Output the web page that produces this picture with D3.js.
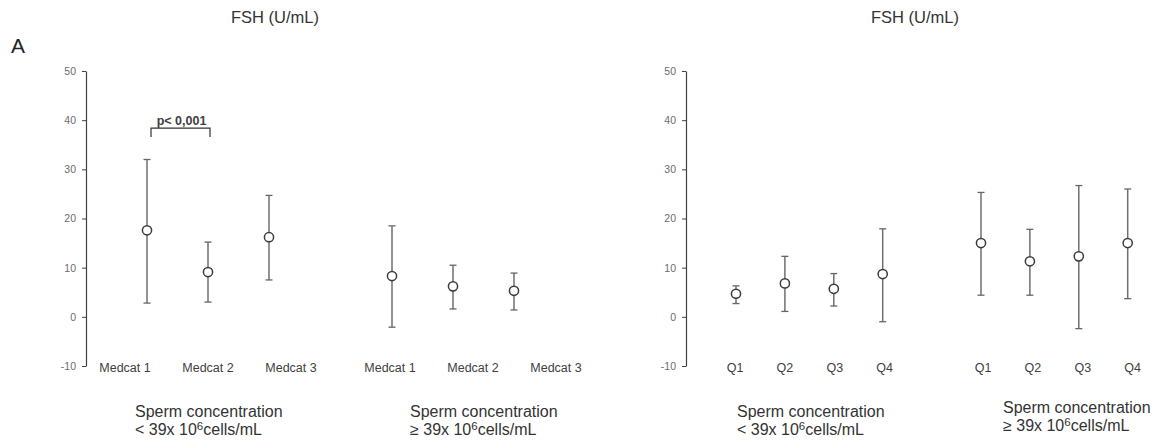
<!DOCTYPE html>
<html>
<head>
<meta charset="utf-8">
<script src="https://cdn.jsdelivr.net/npm/d3@7"></script>
<style>
  body { margin: 0; background: #fff; }
  text { font-family: "Liberation Sans", Arial, sans-serif; }
</style>
</head>
<body>
<script>
// ---- data ----
const yTicks = [-10, 0, 10, 20, 30, 40, 50];

const medcats = ["Medcat 1", "Medcat 2", "Medcat 3"];
const medMeanLow  = [17.6, 9.1, 16.2];
const medLowerLow = [2.8, 3.0, 7.5];
const medUpperLow = [32.0, 15.2, 24.7];
const medMeanHigh  = [8.3, 6.2, 5.3];
const medLowerHigh = [-2.1, 1.6, 1.4];
const medUpperHigh = [18.5, 10.5, 8.9];

const quartiles = ["Q1", "Q2", "Q3", "Q4"];
const qMeanLow  = [4.7, 6.8, 5.7, 8.7];
const qLowerLow = [2.7, 1.1, 2.2, -1.0];
const qUpperLow = [6.3, 12.3, 8.8, 17.9];
const qMeanHigh  = [15.0, 11.3, 12.3, 15.0];
const qLowerHigh = [4.4, 4.4, -2.4, 3.7];
const qUpperHigh = [25.3, 17.8, 26.7, 26.0];

const groupNames = ["low", "high"];
const groupLine1 = "Sperm concentration";
const groupSign = { low: "< 39x 10", high: "\u2265 39x 10" };

const titleText = "FSH (U/mL)";
const pText = "p< 0,001";

// ---- build rows ----
function rows(cats, mean, lower, upper, group) {
  return cats.map((c, i) => ({ cat: c, i: i, group: group, mean: mean[i], lower: lower[i], upper: upper[i] }));
}

const panels = [
  {
    axisX: 86, titleX: 275, cats: medcats,
    data: rows(medcats, medMeanLow, medLowerLow, medUpperLow, "low")
      .concat(rows(medcats, medMeanHigh, medLowerHigh, medUpperHigh, "high")),
    pointGroup: d3.scalePoint().domain(groupNames).range([147, 392]), pointStep: 61,
    labelGroup: d3.scalePoint().domain(groupNames).range([125, 390]), labelStep: 83,
    captionX: { low: 135, high: 410 }, captionY: { low: 417, high: 417 }
  },
  {
    axisX: 686, titleX: 915, cats: quartiles,
    data: rows(quartiles, qMeanLow, qLowerLow, qUpperLow, "low")
      .concat(rows(quartiles, qMeanHigh, qLowerHigh, qUpperHigh, "high")),
    pointGroup: d3.scalePoint().domain(groupNames).range([736, 981]), pointStep: 48.9,
    labelGroup: d3.scalePoint().domain(groupNames).range([735, 983]), labelStep: 49.9,
    captionX: { low: 737, high: 1003 }, captionY: { low: 417, high: 413 }
  }
];

const W = 1159, H = 443;
const y = d3.scaleLinear().domain([-10, 50]).range([366, 71]);

const svg = d3.select("body").append("svg")
  .attr("width", W).attr("height", H);

svg.append("text")
  .attr("x", 11).attr("y", 53)
  .attr("font-size", 21).attr("fill", "#222")
  .text("A");

panels.forEach(p => {
  const g = svg.append("g");

  // title
  g.append("text")
    .attr("x", p.titleX).attr("y", 23)
    .attr("text-anchor", "middle")
    .attr("font-size", 16.5).attr("fill", "#333")
    .text(titleText);

  // y axis
  const axis = g.append("g")
    .attr("transform", `translate(${p.axisX},0)`)
    .call(d3.axisLeft(y).tickValues(yTicks).tickFormat(d => String(d))
      .tickSize(4).tickSizeOuter(0).tickPadding(6));
  axis.select(".domain").attr("stroke", "#404040").attr("stroke-width", 1.2);
  axis.selectAll(".tick line").attr("stroke", "#404040");
  axis.selectAll(".tick text").attr("fill", "#6b6b6b").attr("font-size", 10.5)
    .attr("font-family", "Liberation Sans, Arial, sans-serif");

  const px = d => p.pointGroup(d.group) + p.pointStep * d.i;
  const lx = d => p.labelGroup(d.group) + p.labelStep * d.i;

  // error bars
  const bars = g.selectAll(".bar").data(p.data).join("g").attr("class", "bar");
  bars.append("line")
    .attr("x1", px).attr("x2", px)
    .attr("y1", d => y(d.lower)).attr("y2", d => y(d.upper))
    .attr("stroke", "#6f6f6f").attr("stroke-width", 1.5);
  bars.append("line")
    .attr("x1", d => px(d) - 3.5).attr("x2", d => px(d) + 3.5)
    .attr("y1", d => y(d.upper)).attr("y2", d => y(d.upper))
    .attr("stroke", "#666").attr("stroke-width", 1.3);
  bars.append("line")
    .attr("x1", d => px(d) - 3.5).attr("x2", d => px(d) + 3.5)
    .attr("y1", d => y(d.lower)).attr("y2", d => y(d.lower))
    .attr("stroke", "#666").attr("stroke-width", 1.3);
  bars.append("circle")
    .attr("cx", px).attr("cy", d => y(d.mean)).attr("r", 4.6)
    .attr("fill", "#fff").attr("stroke", "#3a3a3a").attr("stroke-width", 1.5);

  // category labels
  g.selectAll(".cat").data(p.data).join("text")
    .attr("class", "cat")
    .attr("x", lx).attr("y", 372)
    .attr("text-anchor", "middle")
    .attr("font-size", 12.5).attr("fill", "#404040")
    .text(d => d.cat);

  // group captions
  groupNames.forEach(gn => {
    const cx = p.captionX[gn], cy = p.captionY[gn];
    g.append("text").attr("x", cx).attr("y", cy)
      .attr("font-size", 16).attr("fill", "#333").text(groupLine1);
    const t = g.append("text").attr("x", cx).attr("y", cy + 18)
      .attr("font-size", 16).attr("fill", "#333");
    t.append("tspan").text(groupSign[gn]);
    t.append("tspan").attr("dy", -5).attr("font-size", 11.5).text("6");
    t.append("tspan").attr("dy", 5).text("cells/mL");
  });
});

// significance bracket between Medcat 1 and Medcat 2 (low group, left panel)
const lp = panels[0];
const bx1 = lp.pointGroup("low") + lp.pointStep * 0 + 4;
const bx2 = lp.pointGroup("low") + lp.pointStep * 1 + 2;
const by = y(38.4);
svg.append("path")
  .attr("d", `M${bx1},${by + 9}V${by}H${bx2}V${by + 9}`)
  .attr("fill", "none").attr("stroke", "#333").attr("stroke-width", 1.2);
svg.append("text")
  .attr("x", (bx1 + bx2) / 2 + 1).attr("y", by - 3)
  .attr("text-anchor", "middle")
  .attr("font-size", 12.5).attr("font-weight", "bold").attr("fill", "#404040")
  .text(pText);
</script>
</body>
</html>
